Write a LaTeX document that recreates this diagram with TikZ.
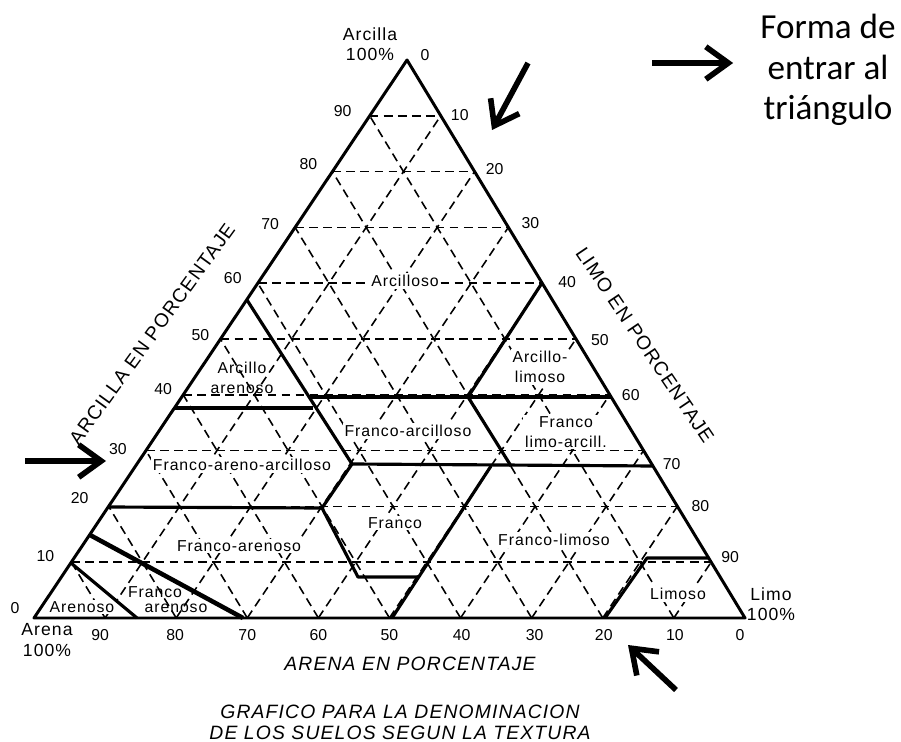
\documentclass[tikz,border=0pt]{standalone}
\usepackage{fontspec}
\setmainfont{Liberation Sans}
\newfontfamily\chartfont[LetterSpace=6]{Liberation Sans}
\newfontfamily\notefont{Carlito}
\usetikzlibrary{arrows.meta}

\begin{document}
\begin{tikzpicture}[x=0.02cm, y=-0.02cm,
      grid/.style={dash pattern=on 5pt off 3pt, line width=0.9pt},
      edge/.style={line width=1.7pt, line join=round},
      bound/.style={line width=1.8pt, line join=round},
      region/.style={fill=white, inner sep=1pt, align=center, font=\chartfont\fontsize{9}{11.4}\selectfont},
      tick/.style={inner sep=0pt, font=\fontsize{9}{11}\selectfont},
      corner/.style={inner sep=0pt, align=center, font=\chartfont\fontsize{10}{11.5}\selectfont},
      axis/.style={align=center, font=\chartfont\fontsize{11}{12}\selectfont},
      entry/.style={line width=3.2pt, -{Straight Barb[length=4.5mm, width=6.5mm]}}]
      \useasboundingbox (0,0) rectangle (901,742);
      \coordinate (arena) at (34,618);
      \coordinate (limo) at (745,618);
      \coordinate (arcilla) at (407,60);
      % grid
      \foreach \k [evaluate=\k as \j using int(10-\k)] in {1,...,9} {
        \draw[grid] (barycentric cs:arena=\j,arcilla=\k) -- (barycentric cs:limo=\j,arcilla=\k);
        \draw[grid] (barycentric cs:arena=\k,limo=\j) -- (barycentric cs:arena=\k,arcilla=\j);
        \draw[grid] (barycentric cs:limo=\k,arena=\j) -- (barycentric cs:limo=\k,arcilla=\j);
      }
      % classes
      \node[region] (arcilloso) at (405,281) {Arcilloso};
      \node[region, fill=none] (arcaren) at (242,378) {Arcillo\\arenoso};
      \node[region] (arclim) at (540,367) {Arcillo-\\limoso};
      \node[region] (flimarc) at (566,432) {Franco\\limo-arcill.};
      \node[region] (farc) at (408,431) {Franco-arcilloso};
      \node[region] (fararc) at (242,465) {Franco-areno-arcilloso};
      \node[region] (franco) at (395,523) {Franco};
      \node[region] (faren) at (239,546) {Franco-arenoso};
      \node[region] (flim) at (554,540) {Franco-limoso};
      \node[region] (limoso) at (678,594) {Limoso};
      \node[region] (arenoso) at (82,607) {Arenoso};
      \node[region, fill=none] (faren1) at (155,592) {Franco};
      \node[region, fill=none] (faren2) at (176,608) {arenoso};
      % boundaries
      \draw[bound] (247,300) -- (352,464) -- (322,508) -- (358,577) -- (418,577);
      \draw[bound] (174,408) -- (313,408);
      \draw[bound] (310,397) -- (611,397);
      \draw[bound] (542,283) -- (468,397) -- (511,466);
      \draw[bound] (352,464) -- (653,466);
      \draw[bound] (108,507) -- (322,508);
      \draw[bound] (392,618) -- (491,466);
      \draw[bound] (605,618) -- (647,558) -- (708,558);
      \draw[bound, line width=2.6pt] (90,535) -- (243,618);
      \draw[bound] (71,563) -- (137,618);
      \draw[edge] (arena) -- (arcilla) -- (limo) -- cycle;
      % scales
      \foreach \v/\dx/\dy [evaluate=\v as \a using \v/10, evaluate=\v as \w using 10-\v/10] in {0/-19/-10, 10/-26/-6, 20/-29/-8, 30/-28/-2, 40/-20/-6, 50/-20/-4, 60/-25/-5, 70/-25/-3, 80/-24/-8, 90/-27/-5}
        \node[tick] at ([shift={(\dx,\dy)}]barycentric cs:arena=\w,arcilla=\a) {\v};
      \foreach \v/\dx/\dy [evaluate=\v as \a using \v/10, evaluate=\v as \w using 10-\v/10] in {0/18/-5, 10/19/-1, 20/20/-3, 30/22/-4, 40/25/-1, 50/24/1, 60/21/0, 70/28/13, 80/23/0, 90/19/-5}
        \node[tick] at ([shift={(\dx,\dy)}]barycentric cs:limo=\a,arcilla=\w) {\v};
      \foreach \v/\dx [evaluate=\v as \a using \v/10, evaluate=\v as \w using 10-\v/10] in {0/-5, 10/1, 20/1, 30/3, 40/1, 50/0, 60/0, 70/0, 80/-1, 90/-5}
        \node[tick] at ([shift={(\dx,17)}]barycentric cs:arena=\a,limo=\w) {\v};
      \node[corner] (arctop) at (370,44) {Arcilla\\100\%};
      \node[corner] (arenabot) at (47,640) {Arena\\100\%};
      \node[corner] (limobot) at (771,604) {Limo\\100\%};
      \node[axis, rotate=54] (arcax) at (152,334) {ARCILLA EN PORCENTAJE};
      \node[axis, rotate=-56] (limax) at (645,345) {LIMO EN PORCENTAJE};
      \node[axis, font=\chartfont\fontsize{11}{12}\selectfont\itshape] (arenax) at (410,664) {ARENA EN PORCENTAJE};
      \node[axis, font=\chartfont\fontsize{11}{12}\selectfont\itshape] (caption) at (400,722) {GRAFICO PARA LA DENOMINACION\\DE LOS SUELOS SEGUN LA TEXTURA};
      % how to enter
      \node[align=center, font=\notefont\fontsize{20}{23}\selectfont] (note) at (828,70) {Forma de\\entrar al\\triángulo};
      \coordinate (ptr0) at (652,63);
      \coordinate (ptr1) at (528,63);
      \coordinate (ptr1e) at (492,130);
      \coordinate (ptr2) at (25,461);
      \coordinate (ptr2e) at (106,461);
      \coordinate (ptr3) at (676,690);
      \coordinate (ptr3e) at (628,645);
      \draw[entry, shorten >=12pt] (ptr0) -- (note.west |- ptr0);
      \draw[entry] (ptr1) -- (ptr1e);
      \draw[entry] (ptr2) -- (ptr2e);
      \draw[entry] (ptr3) -- (ptr3e);
    \end{tikzpicture}
\end{document}
